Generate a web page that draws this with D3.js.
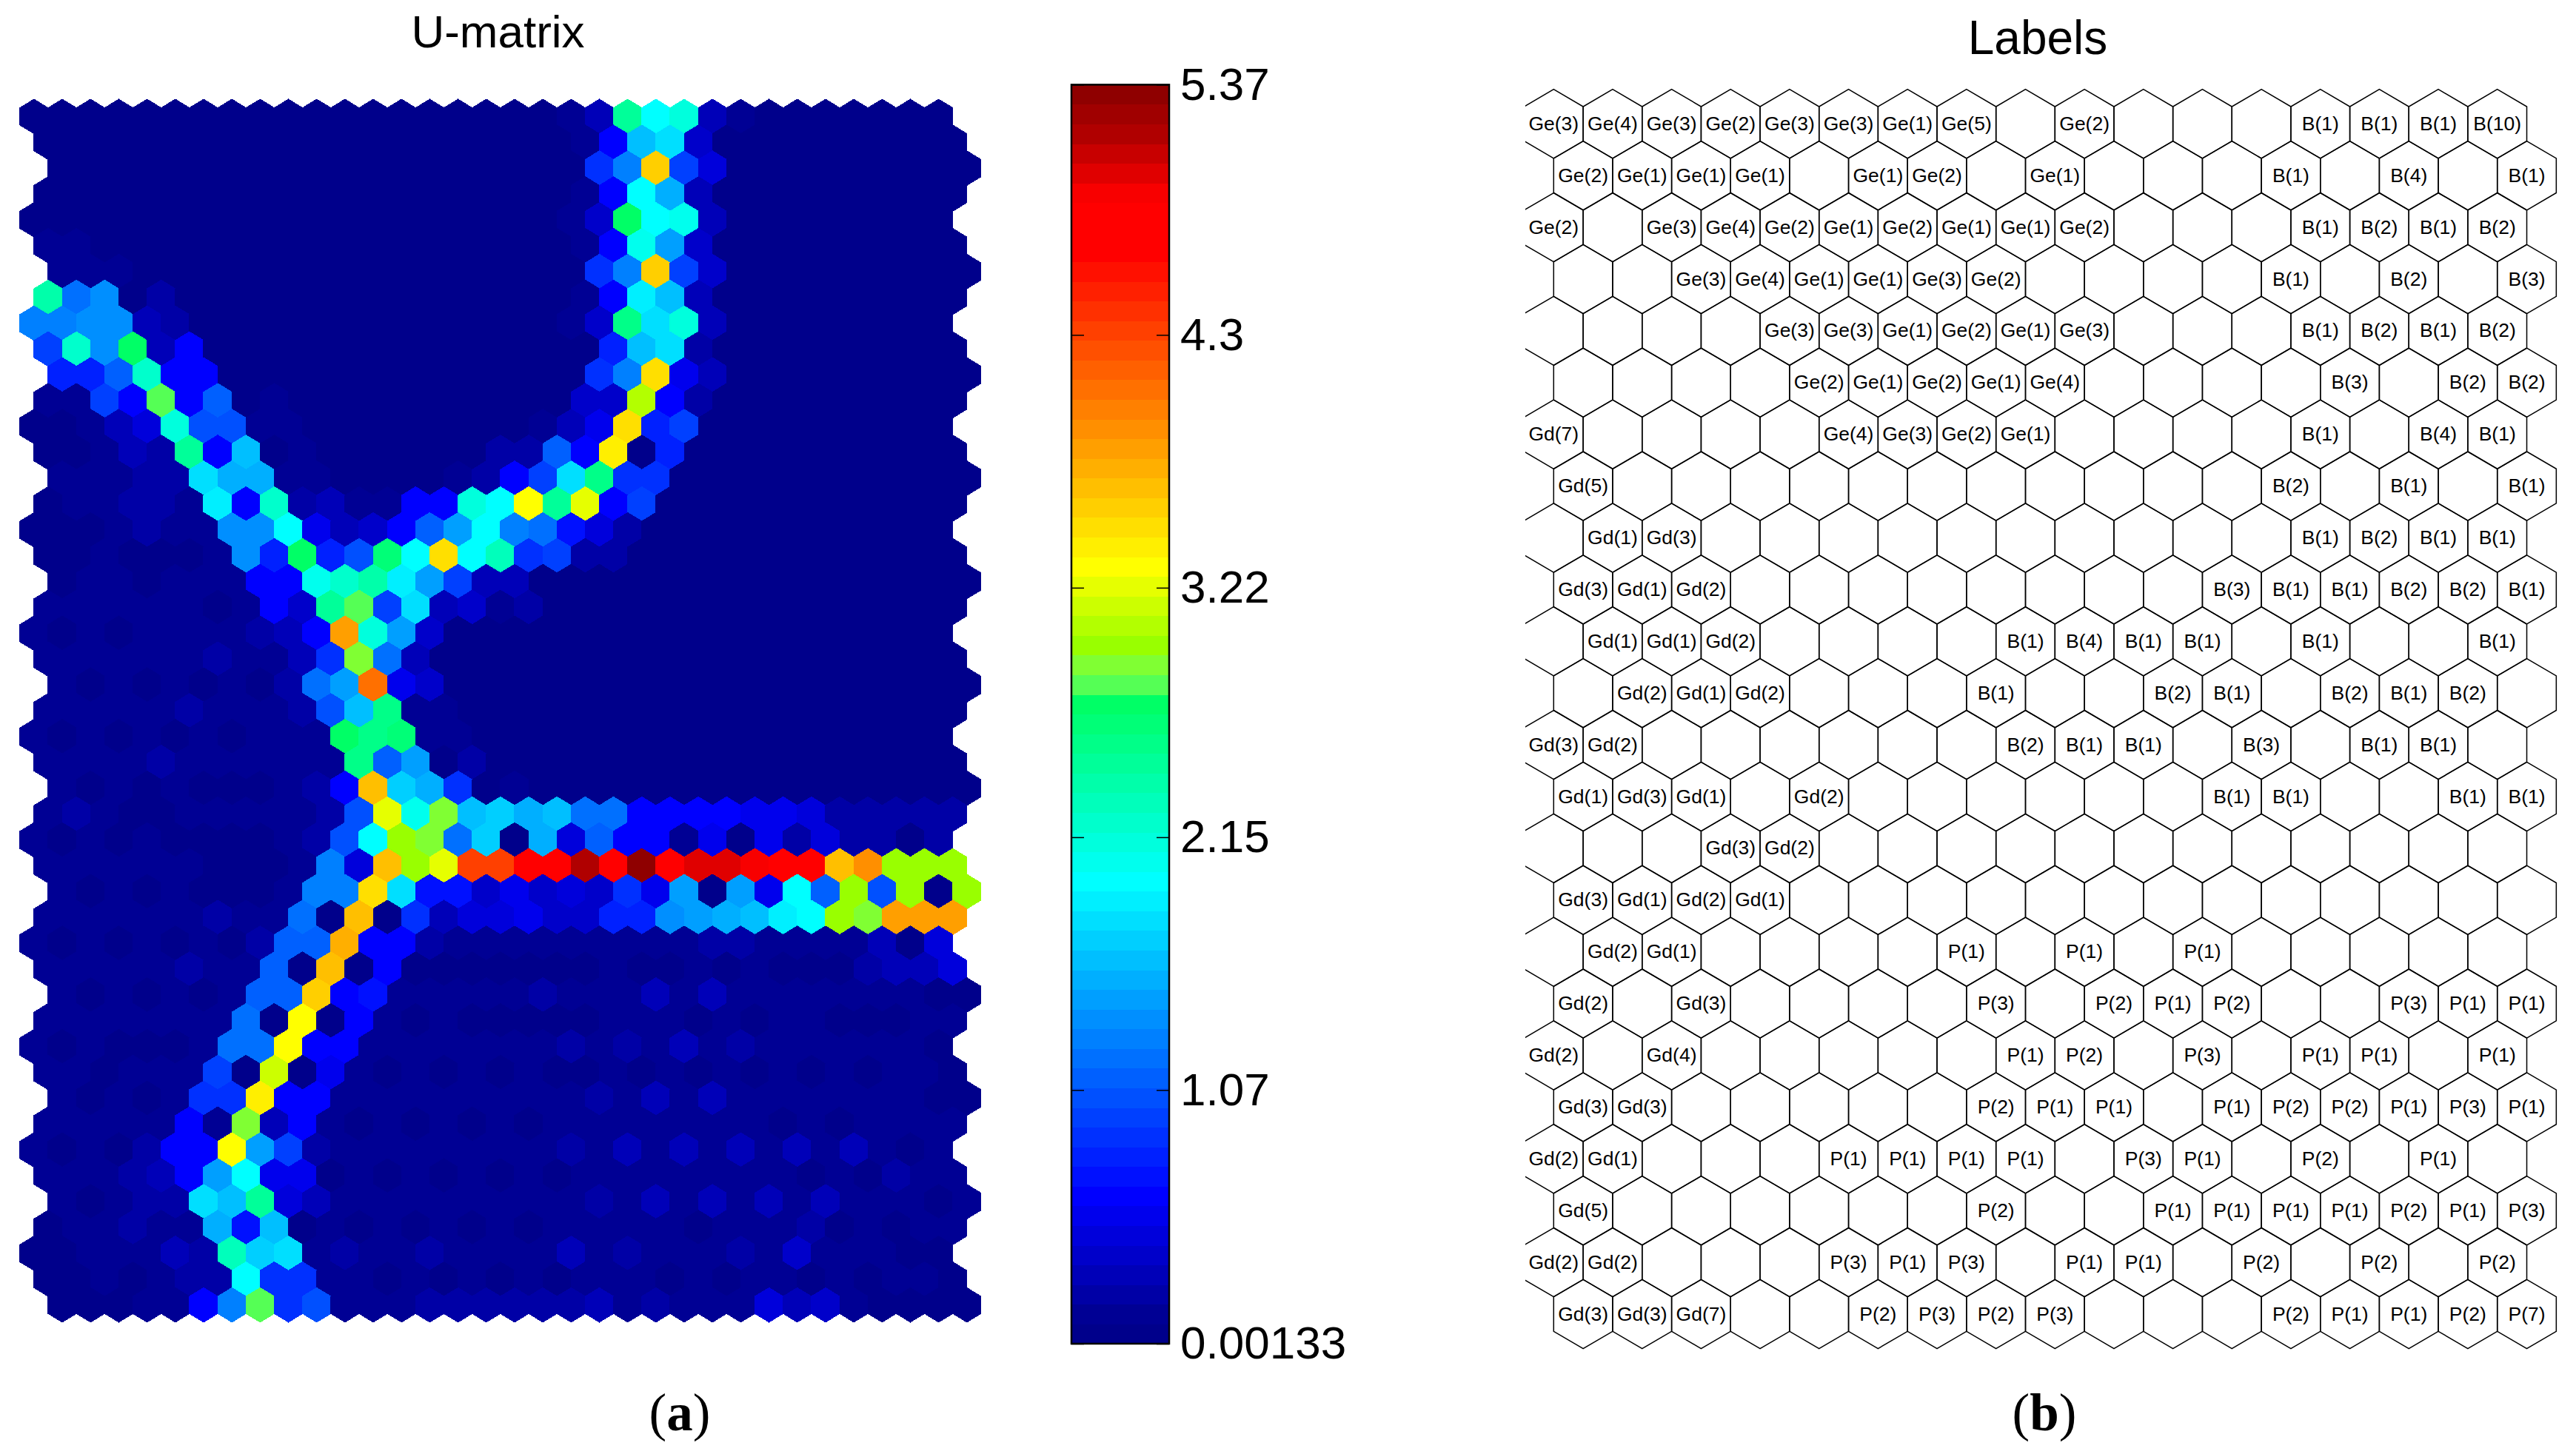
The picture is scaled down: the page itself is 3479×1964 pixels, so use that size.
<!DOCTYPE html>
<meta charset="utf-8">
<html>
<style>
	body { margin: 0; background: #fff; }
	svg text { font-family: "Liberation Sans", Arial, sans-serif; fill: #000; }
	svg text.caption { font-family: "Liberation Serif", "Times New Roman", serif; }
</style>
<body>
<div id="plot"></div>
<script src="https://d3js.org/d3.v7.min.js"></script>
<script>
// U-matrix cells, one string per row, one char per cell (colour level 0-63, see level_chars)
const level_chars = "0123456789abcdefghijklmnopqrstuvwxyzABCDEFGHIJKLMNOPQRSTUVWXYZ@#";
const u_rows = [
	"000000000000000000013tnp310000000",
	"000000000000000000017jl4000000000",
	"0000000000000000000afGb5000000000",
	"000000000000000000017ni3000000000",
	"000000000000000000014wno300000000",
	"110000000000000000017oh4000000000",
	"1110000000000000000afGb4000000000",
	"seg020000000000000017mj3000000000",
	"ffgg32000000000000014ulp300000000",
	"bqgw37000000000000009jl2000000000",
	"99dq770000000000000afF63000000000",
	"11b7x7d01000000000044A72000000000",
	"00135pcc1100000000136F9b000000000",
	"00132t7j0100000022d7E090000000000",
	"11122lii110000127bluaa00000000000",
	"011221m7q231177pnDtC7b00000000000",
	"0001211ggn6347dhnfe85200000000000",
	"0010001g9w9cvnFnrab22000000000000",
	"011011177oqsmhb330000000000000000",
	"1111110174txbl3412000000000000000",
	"10101111237Jph4000000000000000000",
	"1111112113aye30000000000000000000",
	"101010102ehM640000000000000000000",
	"1111121112cju11000000000000000000",
	"10101010111wuv1100000000000000000",
	"11112111111udh0200000000000000000",
	"10101000127Hkia010000000000000000",
	"12100111112cCoyjkijee777766522222",
	"10101000012cnzyek0i5d771606252202",
	"1111110001f5HzCPPTTZT#TXXWTTHKzzz",
	"101010001ffFl8846454a6h0h6ndzcz0z",
	"111111211e0H0a35564499ghijmnzyJJJ",
	"101010102ddI772111111111221111305",
	"11111211d0H0700000001001010002335",
	"1010101ddG78111112111313111111100",
	"1111111e0D07101000001110101100011",
	"1010001eeD77111111121213121111110",
	"110111b0B061010101001010101010110",
	"10101aaE7711111111121313111111100",
	"1111171y3710101010111111110101111",
	"1010277Dhb21111111121313131313101",
	"111237hn6601010101011111111010211",
	"10122ljt5311111111121313131311101",
	"011211i8j010101010111110111201011",
	"0011132rkl12112111131211121411100",
	"0010122naa11010101011101011010110",
	"000117fxac11122222231211153410000"
];

// SOM labels, one string per row, "" = empty cell
const label_rows = [
	"Ge(3),Ge(4),Ge(3),Ge(2),Ge(3),Ge(3),Ge(1),Ge(5),,Ge(2),,,,B(1),B(1),B(1),B(10)",
	"Ge(2),Ge(1),Ge(1),Ge(1),,Ge(1),Ge(2),,Ge(1),,,,B(1),,B(4),,B(1)",
	"Ge(2),,Ge(3),Ge(4),Ge(2),Ge(1),Ge(2),Ge(1),Ge(1),Ge(2),,,,B(1),B(2),B(1),B(2)",
	",,Ge(3),Ge(4),Ge(1),Ge(1),Ge(3),Ge(2),,,,,B(1),,B(2),,B(3)",
	",,,,Ge(3),Ge(3),Ge(1),Ge(2),Ge(1),Ge(3),,,,B(1),B(2),B(1),B(2)",
	",,,,Ge(2),Ge(1),Ge(2),Ge(1),Ge(4),,,,,B(3),,B(2),B(2)",
	"Gd(7),,,,,Ge(4),Ge(3),Ge(2),Ge(1),,,,,B(1),,B(4),B(1)",
	"Gd(5),,,,,,,,,,,,B(2),,B(1),,B(1)",
	",Gd(1),Gd(3),,,,,,,,,,,B(1),B(2),B(1),B(1)",
	"Gd(3),Gd(1),Gd(2),,,,,,,,,B(3),B(1),B(1),B(2),B(2),B(1)",
	",Gd(1),Gd(1),Gd(2),,,,,B(1),B(4),B(1),B(1),,B(1),,,B(1)",
	",Gd(2),Gd(1),Gd(2),,,,B(1),,,B(2),B(1),,B(2),B(1),B(2),",
	"Gd(3),Gd(2),,,,,,,B(2),B(1),B(1),,B(3),,B(1),B(1),",
	"Gd(1),Gd(3),Gd(1),,Gd(2),,,,,,,B(1),B(1),,,B(1),B(1)",
	",,,Gd(3),Gd(2),,,,,,,,,,,,",
	"Gd(3),Gd(1),Gd(2),Gd(1),,,,,,,,,,,,,",
	",Gd(2),Gd(1),,,,,P(1),,P(1),,P(1),,,,,",
	"Gd(2),,Gd(3),,,,,P(3),,P(2),P(1),P(2),,,P(3),P(1),P(1)",
	"Gd(2),,Gd(4),,,,,,P(1),P(2),,P(3),,P(1),P(1),,P(1)",
	"Gd(3),Gd(3),,,,,,P(2),P(1),P(1),,P(1),P(2),P(2),P(1),P(3),P(1)",
	"Gd(2),Gd(1),,,,P(1),P(1),P(1),P(1),,P(3),P(1),,P(2),,P(1),",
	"Gd(5),,,,,,,P(2),,,P(1),P(1),P(1),P(1),P(2),P(1),P(3)",
	"Gd(2),Gd(2),,,,P(3),P(1),P(3),,P(1),P(1),,P(2),,P(2),,P(2)",
	"Gd(3),Gd(3),Gd(7),,,P(2),P(3),P(2),P(3),,,,P(2),P(1),P(1),P(2),P(7)"
];

const colorbar_ticks = [0.00133, 1.083, 2.161, 3.225, 4.303, 5.37];
const colorbar_labels = ["0.00133", "1.07", "2.15", "3.22", "4.3", "5.37"];

// colour map, jet like with a kink in the greens
const stop_index = [0, 1, 2, 7, 23, 32, 33, 34, 35, 39, 55, 57, 58, 59, 60, 61, 62, 63];
const stop_colour = ["#00008b", "#000094", "#0000a6", "#0000ff", "#00ffff", "#00ff66", "#55ff55", "#80ff33", "#99ff00", "#ffff00",
	"#ff0000", "#ff0000", "#f80000", "#e00000", "#c80000", "#b00000", "#a00000", "#8f0000"];
const colour_at = d3.scaleLinear().domain(stop_index).range(stop_colour);
const palette = d3.range(64).map(i => d3.rgb(colour_at(i)).formatHex());

const width = 3479, height = 1964;
const v_min = colorbar_ticks[0], v_max = colorbar_ticks[5];
const colour = d3.scaleQuantize().domain([v_min, v_max]).range(palette);

// level code -> value in the middle of its band
const u_values = u_rows.map(s => Array.from(s, ch => v_min + (level_chars.indexOf(ch) + 0.5) / 64 * (v_max - v_min)));

const svg = d3.select("#plot").append("svg")
	.attr("width", width).attr("height", height)
	.style("display", "block");

// hexagon in lattice units: x half width 0.5, y from -2/3 to 2/3 of a row pitch
const hex_pts = [[0, -2 / 3], [0.5, -1 / 3], [0.5, 1 / 3], [0, 2 / 3], [-0.5, 1 / 3], [-0.5, -1 / 3]];
const hex_path = (x, y, cx, cy) => d3.line()
	.x(p => x(cx + p[0]))
	.y(p => y(cy + p[1]))
	.curve(d3.curveLinearClosed)(hex_pts);

// -----U-matrix-----
const u_offset = [0, 0.5, 1, 0.5];
const u_x = d3.scaleLinear().domain([0, 33]).range([45.9, 45.9 + 33 * 38.18]);
const u_y = d3.scaleLinear().domain([0, 46]).range([157.3, 157.3 + 46 * 34.9]);

const u_cells = [];
u_values.forEach((row, r) => row.forEach((v, c) => u_cells.push({ r, c, v })));

// thin stroke in the cell colour closes the pixel gaps at the hexagon tips
svg.append("g").selectAll("path")
	.data(u_cells)
	.join("path")
	.attr("d", d => hex_path(u_x, u_y, d.c + u_offset[d.r % 4], d.r))
	.attr("fill", d => colour(d.v))
	.attr("stroke", d => colour(d.v))
	.attr("stroke-width", 1)
	.attr("shape-rendering", "crispEdges");

svg.append("text").attr("x", 672.5).attr("y", 64)
	.attr("text-anchor", "middle").attr("font-size", 62).text("U-matrix");

// -----Colour bar-----
const bar = { left: 1447, right: 1579, top: 114.4, bottom: 1815 };
const bar_y = d3.scaleLinear().domain([v_min, v_max]).range([bar.bottom, bar.top]);
const band_y = d3.scaleLinear().domain([0, 64]).range([bar.bottom, bar.top]);

svg.append("g").selectAll("rect")
	.data(palette)
	.join("rect")
	.attr("x", bar.left)
	.attr("width", bar.right - bar.left)
	.attr("y", (d, i) => band_y(i + 1))
	.attr("height", (d, i) => band_y(i) - band_y(i + 1) + 0.5)
	.attr("fill", d => d)
	.attr("shape-rendering", "crispEdges");

// inner ticks on both sides
const axis_right = svg.append("g")
	.attr("transform", "translate(" + bar.right + ",0)")
	.call(d3.axisRight(bar_y)
		.tickValues(colorbar_ticks)
		.tickFormat((d, i) => colorbar_labels[i])
		.tickSizeInner(-17).tickSizeOuter(0).tickPadding(15));
const axis_left = svg.append("g")
	.attr("transform", "translate(" + bar.left + ",0)")
	.call(d3.axisLeft(bar_y)
		.tickValues(colorbar_ticks)
		.tickFormat("")
		.tickSizeInner(-17).tickSizeOuter(0));
axis_right.selectAll("text")
	.attr("font-size", 62)
	.attr("font-family", "Liberation Sans");
axis_right.selectAll("line").attr("stroke", "#000").attr("stroke-width", 1.5);
axis_left.selectAll("line").attr("stroke", "#000").attr("stroke-width", 1.5);
axis_right.select(".domain").remove();
axis_left.select(".domain").remove();

svg.append("rect")
	.attr("x", bar.left).attr("y", bar.top)
	.attr("width", bar.right - bar.left).attr("height", bar.bottom - bar.top)
	.attr("fill", "none").attr("stroke", "#000").attr("stroke-width", 2.5);

// -----Labels-----
const label_cells = [];
label_rows.forEach((s, r) => s.split(",").forEach((t, c) => label_cells.push({ r, c, t })));

const l_x = d3.scaleLinear().domain([0, 16]).range([2098.3, 3372.7]);
const l_y = d3.scaleLinear().domain([0, 23]).range([167.3, 167.3 + 23 * 69.9]);

// outer left edge is cut off in the reference
svg.append("clipPath").attr("id", "label_clip")
	.append("rect").attr("x", 2060).attr("y", 0).attr("width", 1419).attr("height", height);

const label_panel = svg.append("g").attr("clip-path", "url(#label_clip)");

label_panel.selectAll("path")
	.data(label_cells)
	.join("path")
	.attr("d", d => hex_path(l_x, l_y, d.c + (d.r % 2) * 0.5, d.r))
	.attr("fill", "none")
	.attr("stroke", "#000")
	.attr("stroke-width", 1.5);

label_panel.selectAll("text")
	.data(label_cells.filter(d => d.t != ""))
	.join("text")
	.attr("x", d => l_x(d.c + (d.r % 2) * 0.5))
	.attr("y", d => l_y(d.r) + 8.5)
	.attr("text-anchor", "middle")
	.attr("font-size", 26.5)
	.text(d => d.t);

svg.append("text").attr("x", 2752).attr("y", 73)
	.attr("text-anchor", "middle").attr("font-size", 64).text("Labels");

// -----Panel captions-----
const captions = [["a", 918], ["b", 2761]];
captions.forEach(c => {
	const t = svg.append("text").attr("class", "caption")
		.attr("x", c[1]).attr("y", 1932)
		.attr("text-anchor", "middle").attr("font-size", 71);
	t.append("tspan").text("(");
	t.append("tspan").attr("font-weight", "bold").text(c[0]);
	t.append("tspan").text(")");
});
</script>
</body>
</html>
